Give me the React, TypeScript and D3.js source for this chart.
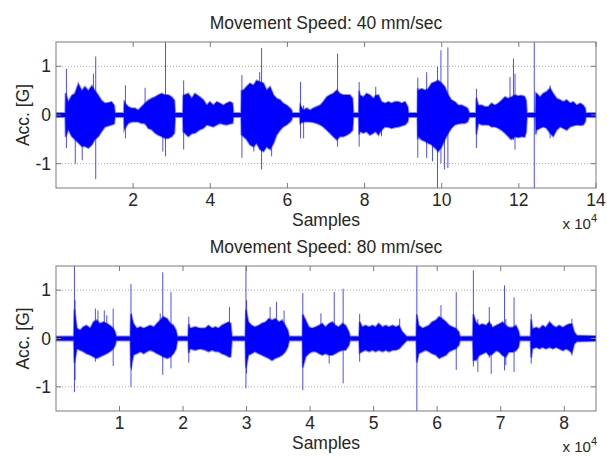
import * as d3 from 'd3';

const W = 607;
const H = 456;

// x in units of 1e4 samples, [x, upper, lower] envelope in G
const env40: [number, number, number][] = [
  [0, 0.04, -0.04], [0.24, 0.04, -0.04],
  [0.25, 0.45, -0.45], [0.32, 0.27, -0.3], [0.41, 0.4, -0.44], [0.49, 0.44, -0.5], [0.58, 0.64, -0.57],
  [0.67, 0.5, -0.64], [0.75, 0.58, -0.64], [0.84, 0.5, -0.68], [0.93, 0.6, -0.61], [1.01, 0.5, -0.5],
  [1.1, 0.4, -0.44], [1.18, 0.3, -0.34], [1.27, 0.24, -0.24], [1.36, 0.25, -0.22], [1.44, 0.27, -0.2],
  [1.51, 0.2, -0.18], [1.53, 0.04, -0.04],
  [1.76, 0.04, -0.04], [1.77, 0.3, -0.3], [1.79, 0.24, -0.27], [1.875, 0.17, -0.17], [1.96, 0.14, -0.14],
  [2.05, 0.14, -0.14], [2.13, 0.1, -0.14], [2.22, 0.17, -0.17], [2.31, 0.24, -0.17], [2.39, 0.3, -0.27],
  [2.48, 0.34, -0.3], [2.57, 0.37, -0.37], [2.65, 0.41, -0.41], [2.74, 0.44, -0.44], [2.83, 0.41, -0.48],
  [2.91, 0.41, -0.48], [3.0, 0.37, -0.44], [3.07, 0.3, -0.37], [3.09, 0.04, -0.04],
  [3.29, 0.04, -0.04], [3.3, 0.4, -0.34], [3.43, 0.44, -0.44], [3.52, 0.34, -0.38], [3.6, 0.44, -0.37],
  [3.73, 0.37, -0.3], [3.82, 0.31, -0.27], [3.91, 0.2, -0.2], [3.99, 0.27, -0.22], [4.08, 0.2, -0.24],
  [4.17, 0.27, -0.2], [4.25, 0.24, -0.17], [4.34, 0.2, -0.19], [4.42, 0.24, -0.2], [4.51, 0.27, -0.18],
  [4.58, 0.24, -0.17], [4.6, 0.04, -0.04],
  [4.8, 0.04, -0.04], [4.81, 0.5, -0.4], [4.86, 0.51, -0.44], [4.94, 0.58, -0.5], [5.03, 0.65, -0.61],
  [5.12, 0.61, -0.65], [5.2, 0.71, -0.58], [5.29, 0.68, -0.71], [5.38, 0.65, -0.75], [5.46, 0.51, -0.65],
  [5.55, 0.58, -0.71], [5.64, 0.41, -0.58], [5.72, 0.34, -0.41], [5.81, 0.31, -0.31], [5.89, 0.24, -0.24],
  [5.98, 0.2, -0.2], [6.07, 0.14, -0.14], [6.11, 0.1, -0.1], [6.13, 0.04, -0.04],
  [6.32, 0.04, -0.04], [6.33, 0.2, -0.17], [6.42, 0.1, -0.14], [6.5, 0.14, -0.14], [6.59, 0.1, -0.14],
  [6.67, 0.14, -0.15], [6.76, 0.17, -0.17], [6.85, 0.2, -0.2], [6.93, 0.27, -0.24], [7.02, 0.37, -0.31],
  [7.1, 0.41, -0.37], [7.19, 0.44, -0.44], [7.28, 0.51, -0.51], [7.36, 0.44, -0.44], [7.45, 0.41, -0.44],
  [7.54, 0.41, -0.41], [7.62, 0.41, -0.37], [7.69, 0.34, -0.31], [7.71, 0.04, -0.04],
  [7.85, 0.04, -0.04], [7.86, 0.5, -0.4], [7.88, 0.41, -0.34], [7.97, 0.37, -0.37], [8.05, 0.44, -0.34],
  [8.14, 0.41, -0.41], [8.23, 0.34, -0.37], [8.29, 0.4, -0.34], [8.36, 0.41, -0.41], [8.44, 0.27, -0.31],
  [8.53, 0.24, -0.24], [8.62, 0.27, -0.25], [8.7, 0.24, -0.27], [8.79, 0.27, -0.25], [8.88, 0.27, -0.24],
  [8.96, 0.24, -0.22], [9.05, 0.27, -0.2], [9.12, 0.17, -0.14], [9.14, 0.04, -0.04],
  [9.37, 0.04, -0.04], [9.38, 0.55, -0.5], [9.39, 0.51, -0.44], [9.48, 0.54, -0.51], [9.57, 0.51, -0.54],
  [9.65, 0.54, -0.58], [9.74, 0.65, -0.61], [9.83, 0.68, -0.68], [9.91, 0.71, -0.75], [10.0, 0.65, -0.65],
  [10.08, 0.58, -0.51], [10.17, 0.41, -0.37], [10.25, 0.31, -0.27], [10.34, 0.27, -0.2], [10.43, 0.2, -0.18],
  [10.52, 0.2, -0.17], [10.6, 0.17, -0.17], [10.67, 0.14, -0.14], [10.72, 0.04, -0.04],
  [10.89, 0.04, -0.04], [10.9, 0.35, -0.4], [10.95, 0.2, -0.17], [11.04, 0.2, -0.2], [11.12, 0.17, -0.2],
  [11.21, 0.17, -0.2], [11.29, 0.24, -0.24], [11.38, 0.2, -0.24], [11.47, 0.24, -0.27], [11.55, 0.3, -0.31],
  [11.64, 0.37, -0.37], [11.73, 0.34, -0.44], [11.81, 0.37, -0.5], [11.9, 0.41, -0.44], [11.98, 0.39, -0.46],
  [12.07, 0.4, -0.44], [12.15, 0.38, -0.45], [12.19, 0.3, -0.35], [12.21, 0.04, -0.04],
  [12.43, 0.04, -0.04], [12.44, 0.45, -0.4], [12.46, 0.44, -0.31], [12.55, 0.37, -0.27], [12.63, 0.44, -0.24],
  [12.72, 0.48, -0.27], [12.81, 0.55, -0.37], [12.89, 0.44, -0.44], [12.98, 0.34, -0.31], [13.07, 0.31, -0.24],
  [13.15, 0.27, -0.27], [13.24, 0.31, -0.31], [13.33, 0.24, -0.24], [13.41, 0.27, -0.22], [13.5, 0.2, -0.2],
  [13.59, 0.24, -0.21], [13.67, 0.2, -0.2], [13.72, 0.14, -0.14], [13.74, 0.04, -0.04], [14, 0.04, -0.04],
];

// single tall peaks: [x, max, min]
const spikes40: [number, number, number][] = [
  [0.27, 0.95, -0.68], [0.5, 0.3, -1.0], [0.68, 0.4, -0.93], [0.97, 0.85, -0.4], [1.03, 1.2, -1.32],
  [1.8, 0.61, -0.48], [2.31, 0.56, -0.2], [2.77, 0.4, -0.75], [2.84, 1.5, -0.85], [3.31, 0.71, -0.71],
  [4.82, 0.82, -0.88], [5.13, 0.4, -0.75], [5.28, 0.88, -0.5], [5.33, 1.38, -1.12], [5.59, 0.5, -0.85],
  [6.34, 0.68, -0.48], [6.42, 0.2, -0.48], [7.3, 1.26, -0.65], [7.86, 0.68, -0.65], [8.29, 0.58, -0.3],
  [8.44, 0.2, -0.44], [9.38, 0.77, -0.88], [9.61, 0.88, -0.88], [9.76, 0.5, -0.95], [9.89, 0.99, -1.5],
  [9.98, 1.33, -0.99], [10.07, 0.5, -1.12], [10.16, 1.39, -1.09], [10.9, 0.54, -0.68], [11.77, 0.78, -0.5],
  [11.86, 1.16, -0.51], [11.9, 0.85, -0.71], [12.4, 1.5, -1.5], [12.81, 0.61, -0.48],
];

const env80: [number, number, number][] = [
  [0, 0.04, -0.04], [0.28, 0.04, -0.04],
  [0.29, 0.6, -0.5], [0.33, 0.21, -0.21], [0.38, 0.17, -0.24], [0.43, 0.24, -0.27], [0.48, 0.27, -0.31],
  [0.54, 0.21, -0.34], [0.59, 0.34, -0.38], [0.64, 0.38, -0.41], [0.69, 0.31, -0.38], [0.75, 0.34, -0.34],
  [0.8, 0.31, -0.31], [0.85, 0.27, -0.27], [0.9, 0.21, -0.21], [0.93, 0.14, -0.14], [0.95, 0.04, -0.04],
  [1.17, 0.04, -0.04], [1.18, 0.5, -0.6], [1.22, 0.31, -0.34], [1.27, 0.21, -0.31], [1.33, 0.24, -0.27],
  [1.38, 0.21, -0.31], [1.43, 0.24, -0.27], [1.48, 0.27, -0.24], [1.54, 0.24, -0.27], [1.59, 0.31, -0.31],
  [1.64, 0.38, -0.34], [1.69, 0.45, -0.38], [1.75, 0.41, -0.41], [1.8, 0.31, -0.38], [1.85, 0.27, -0.31],
  [1.89, 0.17, -0.21], [1.91, 0.04, -0.04],
  [2.08, 0.04, -0.04], [2.09, 0.3, -0.3], [2.11, 0.21, -0.21], [2.19, 0.24, -0.24], [2.27, 0.21, -0.21],
  [2.35, 0.21, -0.24], [2.4, 0.27, -0.27], [2.46, 0.21, -0.24], [2.51, 0.24, -0.27], [2.56, 0.21, -0.27],
  [2.61, 0.27, -0.31], [2.67, 0.31, -0.34], [2.72, 0.34, -0.38], [2.75, 0.31, -0.38], [2.77, 0.04, -0.04],
  [2.98, 0.04, -0.04], [2.99, 0.6, -0.6], [3.03, 0.34, -0.34], [3.08, 0.27, -0.31], [3.13, 0.24, -0.27],
  [3.19, 0.27, -0.31], [3.24, 0.31, -0.34], [3.3, 0.34, -0.38], [3.35, 0.41, -0.41], [3.4, 0.38, -0.45],
  [3.45, 0.41, -0.41], [3.51, 0.34, -0.38], [3.56, 0.38, -0.34], [3.61, 0.27, -0.27], [3.65, 0.17, -0.17],
  [3.67, 0.04, -0.04],
  [3.88, 0.04, -0.04], [3.885, 0.5, -0.6], [3.93, 0.38, -0.38], [3.98, 0.24, -0.31], [4.03, 0.21, -0.27],
  [4.09, 0.24, -0.27], [4.14, 0.27, -0.31], [4.19, 0.31, -0.34], [4.24, 0.24, -0.31], [4.3, 0.31, -0.34],
  [4.35, 0.34, -0.34], [4.4, 0.27, -0.31], [4.45, 0.24, -0.27], [4.51, 0.31, -0.24], [4.56, 0.27, -0.24],
  [4.61, 0.14, -0.14], [4.63, 0.04, -0.04],
  [4.77, 0.04, -0.04], [4.78, 0.35, -0.3], [4.82, 0.24, -0.27], [4.87, 0.27, -0.24], [4.93, 0.24, -0.27],
  [4.98, 0.27, -0.24], [5.03, 0.24, -0.27], [5.08, 0.31, -0.24], [5.14, 0.24, -0.27], [5.19, 0.27, -0.24],
  [5.24, 0.24, -0.27], [5.3, 0.27, -0.24], [5.35, 0.24, -0.24], [5.4, 0.27, -0.21], [5.45, 0.14, -0.14],
  [5.5, 0.07, -0.07], [5.52, 0.04, -0.04],
  [5.67, 0.04, -0.04], [5.68, 0.5, -0.5], [5.71, 0.27, -0.31], [5.77, 0.21, -0.27], [5.82, 0.24, -0.24],
  [5.87, 0.27, -0.27], [5.92, 0.34, -0.31], [5.98, 0.38, -0.34], [6.03, 0.45, -0.41], [6.08, 0.41, -0.38],
  [6.14, 0.34, -0.34], [6.19, 0.27, -0.27], [6.24, 0.24, -0.24], [6.29, 0.21, -0.21], [6.34, 0.14, -0.14],
  [6.36, 0.04, -0.04],
  [6.56, 0.04, -0.04], [6.57, 0.5, -0.45], [6.61, 0.34, -0.45], [6.66, 0.27, -0.35], [6.71, 0.3, -0.32],
  [6.77, 0.27, -0.28], [6.82, 0.34, -0.35], [6.87, 0.23, -0.32], [6.93, 0.27, -0.25], [6.98, 0.3, -0.28],
  [7.03, 0.34, -0.35], [7.08, 0.27, -0.38], [7.13, 0.23, -0.28], [7.19, 0.23, -0.28], [7.24, 0.27, -0.25],
  [7.28, 0.16, -0.18], [7.3, 0.04, -0.04],
  [7.47, 0.04, -0.04], [7.48, 0.4, -0.4], [7.5, 0.2, -0.21], [7.56, 0.23, -0.18], [7.61, 0.2, -0.21],
  [7.66, 0.27, -0.18], [7.71, 0.23, -0.21], [7.77, 0.34, -0.18], [7.82, 0.27, -0.21], [7.87, 0.23, -0.18],
  [7.92, 0.27, -0.21], [7.98, 0.23, -0.25], [8.03, 0.27, -0.21], [8.08, 0.3, -0.25], [8.12, 0.3, -0.3],
  [8.16, 0.13, -0.11], [8.2, 0.06, -0.06], [8.5, 0.05, -0.05],
];

const spikes80: [number, number, number][] = [
  [0.29, 1.5, -1.11], [0.3, 0.79, -0.86], [0.62, 0.62, -0.48], [0.66, 0.58, -0.3], [0.76, 0.58, -0.3],
  [0.8, 0.48, -0.3], [0.9, 0.62, -0.57], [1.18, 1.13, -1.0], [1.19, 0.52, -0.65], [1.64, 0.52, -0.3],
  [1.68, 1.37, -0.75], [1.81, 0.96, -0.62], [2.09, 0.45, -0.5], [2.73, 0.65, -0.38], [2.99, 1.5, -1.03],
  [3.0, 0.79, -0.72], [3.37, 0.65, -0.3], [3.47, 0.76, -0.3], [3.59, 0.58, -0.3], [3.885, 0.94, -1.07],
  [4.17, 0.52, -0.3], [4.3, 0.3, -0.52], [4.38, 0.96, -0.3], [4.52, 1.03, -0.93], [4.78, 0.51, -0.48],
  [5.41, 0.41, -0.2], [5.68, 1.5, -1.5], [6.06, 0.69, -0.3], [6.3, 0.96, -0.65], [6.57, 1.41, -0.58],
  [6.64, 0.4, -0.69], [6.82, 0.65, -0.4], [6.85, 0.3, -0.73], [7.06, 1.1, -0.66], [7.08, 0.4, -0.55],
  [7.21, 0.85, -0.69], [7.48, 0.51, -0.52], [8.12, 0.41, -0.35],
];

const xTicks40 = [2, 4, 6, 8, 10, 12, 14];
const xTicks80 = [1, 2, 3, 4, 5, 6, 7, 8];
const yTicks = [-1, 0, 1];

const font = "'Liberation Sans', Arial, Helvetica, sans-serif";
const textColor = '#262626';
const axisColor = '#7a7a7a';
const blue = '#0000ff';
const fs = 17.5;

type Row = [number, number, number];

function Panel({ id, top, bottom, title, env, spikes, xMax, xTicks }: {
  id: string; top: number; bottom: number; title: string; env: Row[]; spikes: Row[]; xMax: number; xTicks: number[];
}) {
  const left = 56;
  const right = 596;
  const x = d3.scaleLinear().domain([0, xMax]).range([left, right]);
  const y = d3.scaleLinear().domain([-1.5, 1.5]).range([bottom, top]);
  const area = d3.area<Row>()
    .x(d => x(d[0]))
    .y0(d => y(d[2]))
    .y1(d => y(d[1]));
  const midY = (top + bottom) / 2;

  return (
    <g>
      <defs>
        <clipPath id={id}>
          <rect x={left} y={top} width={right - left} height={bottom - top} />
        </clipPath>
      </defs>
      <text x={(left + right) / 2} y={top - 13} textAnchor="middle" fontSize={fs} fill={textColor}>{title}</text>
      {yTicks.map(t => (
        <line key={'g' + t} x1={left} x2={right} y1={y(t)} y2={y(t)} stroke="#a8a8a8" strokeWidth={1} strokeDasharray="1 2" />
      ))}
      <g clipPath={`url(#${id})`}>
        {/* soft fringe round the dense part, then the solid core */}
        <path d={area(env) || ''} fill="none" stroke={blue} strokeWidth={2} strokeOpacity={0.45} />
        <path d={area(env) || ''} fill={blue} />
        {spikes.map((s, i) => (
          <line key={i} x1={x(s[0])} x2={x(s[0])} y1={y(s[1])} y2={y(s[2])} stroke={blue} strokeWidth={1} strokeOpacity={0.7} />
        ))}
      </g>
      <rect x={left} y={top} width={right - left} height={bottom - top} fill="none" stroke={axisColor} strokeWidth={1} />
      {xTicks.map(t => (
        <g key={'x' + t}>
          <line x1={x(t)} x2={x(t)} y1={bottom} y2={bottom - 5} stroke={axisColor} />
          <line x1={x(t)} x2={x(t)} y1={top} y2={top + 5} stroke={axisColor} />
          <text x={x(t)} y={bottom + 18} textAnchor="middle" fontSize={fs} fill={textColor}>{t}</text>
        </g>
      ))}
      {yTicks.map(t => (
        <g key={'y' + t}>
          <line x1={left} x2={left + 5} y1={y(t)} y2={y(t)} stroke={axisColor} />
          <line x1={right} x2={right - 5} y1={y(t)} y2={y(t)} stroke={axisColor} />
          <text x={51} y={y(t) + 6} textAnchor="end" fontSize={fs} fill={textColor}>{t}</text>
        </g>
      ))}
      <text x={(left + right) / 2} y={bottom + 38} textAnchor="middle" fontSize={fs} fill={textColor}>Samples</text>
      <text x={597} y={bottom + 41} textAnchor="end" fontSize={15} fill={textColor}>
        x 10<tspan fontSize={11} dy={-7}>4</tspan>
      </text>
      <text transform={`translate(29,${midY}) rotate(-90)`} textAnchor="middle" fontSize={fs} fill={textColor}>Acc. [G]</text>
    </g>
  );
}

export default function App() {
  return (
    <svg width={W} height={H} style={{ position: 'absolute', left: 0, top: 0, background: '#fff' }} fontFamily={font}>
      <Panel id="c40" top={42} bottom={188} title="Movement Speed: 40 mm/sec" env={env40} spikes={spikes40} xMax={14} xTicks={xTicks40} />
      <Panel id="c80" top={266} bottom={411} title="Movement Speed: 80 mm/sec" env={env80} spikes={spikes80} xMax={8.5} xTicks={xTicks80} />
    </svg>
  );
}
